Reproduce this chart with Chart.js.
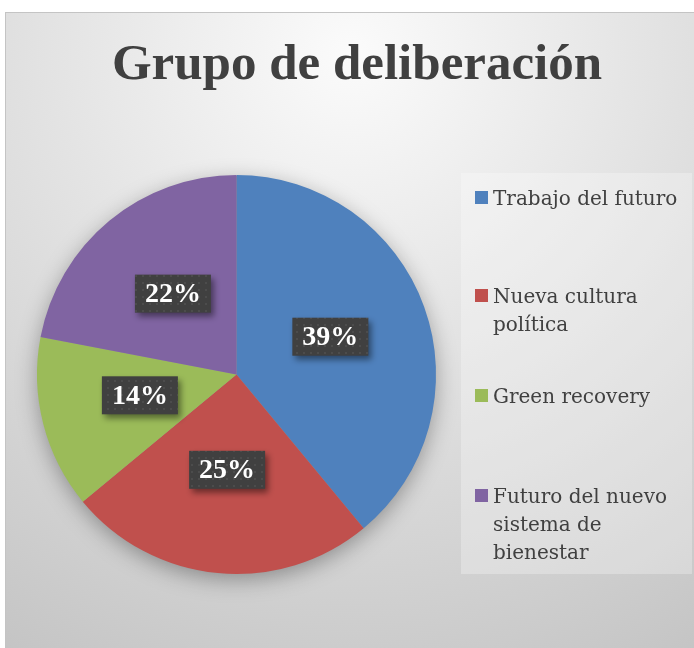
<!DOCTYPE html>
<html>
<head>
<meta charset="utf-8">
<script src="https://cdn.jsdelivr.net/npm/chart.js@4"></script>
<style>
  html, body { margin: 0; padding: 0; background: #ffffff; }
  #frame {
    position: absolute; left: 5px; top: 12px;
    width: 689px; height: 636px;
    border-left: 1px solid #c4c4c4; border-top: 1px solid #c4c4c4;
  }
  canvas { display: block; }
</style>
</head>
<body>
<div id="frame"><canvas id="pie" width="689" height="636"></canvas></div>
<script>
  const titleText = 'Grupo de deliberación';
  const categories = ['Trabajo del futuro', 'Nueva cultura política', 'Green recovery', 'Futuro del nuevo sistema de bienestar'];
  const legendLines = [
    ['Trabajo del futuro'],
    ['Nueva cultura', 'política'],
    ['Green recovery'],
    ['Futuro del nuevo', 'sistema de', 'bienestar']
  ];
  const values = [39, 25, 14, 22];
  const colors = ['#4f81bd', '#c0504d', '#9bbb59', '#8064a2'];

  // dotted dark fill for the data label boxes
  function makePattern(ctx) {
    const p = document.createElement('canvas');
    p.width = 7; p.height = 7;
    const pc = p.getContext('2d');
    pc.fillStyle = '#404040';
    pc.fillRect(0, 0, 7, 7);
    pc.fillStyle = '#4c4c4c';
    pc.fillRect(3, 3, 2, 2);
    return ctx.createPattern(p, 'repeat');
  }

  const background = {
    id: 'background',
    beforeDraw: (chart) => {
      const {ctx} = chart;
      ctx.save();
      const g = ctx.createRadialGradient(345, 40, 0, 345, 40, 720);
      g.addColorStop(0, '#fbfbfb');
      g.addColorStop(1, '#c2c2c2');
      ctx.fillStyle = g;
      ctx.fillRect(0, 0, chart.width, chart.height);

      ctx.fillStyle = '#404040';
      ctx.font = 'bold 51px "Liberation Serif"';
      ctx.textAlign = 'center';
      ctx.textBaseline = 'alphabetic';
      ctx.fillText(titleText, 351, 66);
      ctx.restore();
    }
  };

  const pieShadow = {
    id: 'pieShadow',
    beforeDatasetsDraw: (chart) => {
      const arc = chart.getDatasetMeta(0).data[0];
      if (!arc) return;
      const {ctx} = chart;
      ctx.save();
      ctx.shadowColor = 'rgba(0,0,0,0.35)';
      ctx.shadowBlur = 22;
      ctx.shadowOffsetY = 6;
      ctx.fillStyle = '#999';
      ctx.beginPath();
      ctx.arc(arc.x, arc.y, arc.outerRadius - 1, 0, Math.PI * 2);
      ctx.fill();
      ctx.restore();
    }
  };

  const dataLabels = {
    id: 'dataLabels',
    afterDatasetsDraw: (chart) => {
      const {ctx} = chart;
      const total = values.reduce((a, b) => a + b, 0);
      const pattern = makePattern(ctx);
      chart.getDatasetMeta(0).data.forEach((arc, i) => {
        const pt = arc.getCenterPoint();
        const w = 76, h = 38;
        const x = pt.x - w / 2, y = pt.y - 4 - h / 2;
        ctx.save();
        ctx.shadowColor = 'rgba(0,0,0,0.45)';
        ctx.shadowBlur = 6;
        ctx.shadowOffsetX = 3;
        ctx.shadowOffsetY = 4;
        ctx.fillStyle = pattern;
        ctx.fillRect(x, y, w, h);
        ctx.restore();
        ctx.save();
        ctx.fillStyle = '#ffffff';
        ctx.font = 'bold 28px "Liberation Serif"';
        ctx.textAlign = 'center';
        ctx.textBaseline = 'middle';
        ctx.fillText(Math.round(values[i] / total * 100) + '%', pt.x, pt.y - 3);
        ctx.restore();
      });
    }
  };

  const sideLegend = {
    id: 'sideLegend',
    afterDraw: (chart) => {
      const {ctx} = chart;
      ctx.save();
      ctx.fillStyle = 'rgba(255,255,255,0.28)';
      ctx.fillRect(455, 160, 231, 401);
      ctx.font = '20px "DejaVu Serif"';
      ctx.textBaseline = 'alphabetic';
      ctx.textAlign = 'left';
      const firstBase = [192, 290, 390, 490];
      legendLines.forEach((lines, i) => {
        ctx.fillStyle = colors[i];
        ctx.fillRect(469, firstBase[i] - 14, 13, 13);
        ctx.fillStyle = '#404040';
        lines.forEach((t, j) => ctx.fillText(t, 487, firstBase[i] + j * 28));
      });
      ctx.restore();
    }
  };

  const config = {
    type: 'pie',
    data: {
      labels: categories,
      datasets: [{
        data: values,
        backgroundColor: colors,
        borderWidth: 0
      }]
    },
    plugins: [background, pieShadow, dataLabels, sideLegend],
    options: {
      responsive: false,
      animation: false,
      layout: {
        padding: {left: 31, right: 259, top: 162, bottom: 75}
      },
      plugins: {
        legend: { display: false },
        tooltip: { enabled: false }
      }
    }
  };

  const myChart = new Chart(document.getElementById('pie'), config);
</script>
</body>
</html>
